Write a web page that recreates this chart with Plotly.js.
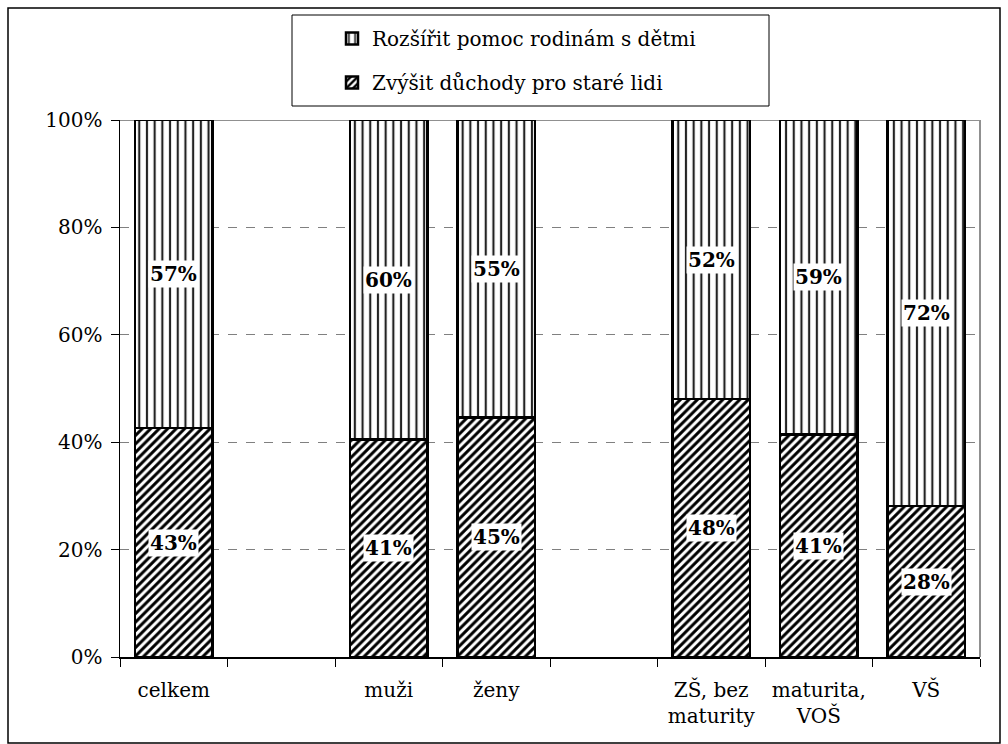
<!DOCTYPE html>
<html>
<head>
<meta charset="utf-8">
<script src="https://cdn.plot.ly/plotly-3.0.1.min.js"></script>
<style>html,body{margin:0;padding:0;background:#fff;}#chart{width:1008px;height:744px;}</style>
</head>
<body>
<div id="chart"></div>
<script>
// Category slots (two empty slots act as gaps)
const categories = ['celkem', ' ', 'muži', 'ženy', '  ', 'ZŠ, bez<br>maturity', 'maturita,<br>VOŠ', 'VŠ'];
const barCategories = ['celkem', 'muži', 'ženy', 'ZŠ, bez<br>maturity', 'maturita,<br>VOŠ', 'VŠ'];
// Zvýšit důchody pro staré lidi (bottom)
const pensions = [42.6, 40.5, 44.6, 48.0, 41.4, 28.1];
// Rozšířit pomoc rodinám s dětmi (top)
const families = [57.4, 59.5, 55.4, 52.0, 58.6, 71.9];
const pensionLabels = ['43%', '41%', '45%', '48%', '41%', '28%'];
const familyLabels = ['57%', '60%', '55%', '52%', '59%', '72%'];
const seriesNames = ['Zvýšit důchody pro staré lidi', 'Rozšířit pomoc rodinám s dětmi'];
const yTicks = [0, 20, 40, 60, 80, 100];

const FONT = 'DejaVu Serif';
const FS = 20;

const traces = [
  {
    type: 'bar', name: seriesNames[0], x: barCategories, y: pensions,
    legend: 'legend2',
    marker: {color: 'white', line: {color: 'black', width: 2.5},
      pattern: {shape: '/', fgcolor: 'black', bgcolor: 'white', size: 6, solidity: 0.5}},
    hoverinfo: 'skip'
  },
  {
    type: 'bar', name: seriesNames[1], x: barCategories, y: families,
    legend: 'legend',
    marker: {color: 'white', line: {color: 'black', width: 2.5},
      pattern: {shape: '|', fgcolor: '#222', bgcolor: 'white', size: 7.7, solidity: 0.28}},
    hoverinfo: 'skip'
  }
];

const annotations = [];
barCategories.forEach((c, i) => {
  annotations.push({x: c, y: pensions[i] / 2, xref: 'x', yref: 'y', text: '<b>' + pensionLabels[i] + '</b>',
    showarrow: false, bgcolor: 'white', borderpad: 1,
    font: {family: FONT, size: FS, color: 'black'}});
  annotations.push({x: c, y: pensions[i] + families[i] / 2, xref: 'x', yref: 'y', text: '<b>' + familyLabels[i] + '</b>',
    showarrow: false, bgcolor: 'white', borderpad: 1,
    font: {family: FONT, size: FS, color: 'black'}});
});

function px(xp) { return (xp - 120) / 860; }
function py(yp) { return (657 - yp) / 537; }

const shapes = [
  // outer chart border
  {type: 'rect', xref: 'paper', yref: 'paper', x0: px(8), x1: px(1000), y0: py(743), y1: py(8),
    line: {color: 'black', width: 1.5}, layer: 'below'},
  // legend box
  {type: 'rect', xref: 'paper', yref: 'paper', x0: px(292), x1: px(769), y0: py(106), y1: py(15),
    line: {color: 'black', width: 1}, fillcolor: 'white', layer: 'below'},
  // plot area border top & right (gray)
  {type: 'line', xref: 'paper', yref: 'y', x0: 0, x1: 1, y0: 100, y1: 100,
    line: {color: '#909090', width: 2}, layer: 'below'},
  {type: 'line', xref: 'paper', yref: 'y', x0: 1, x1: 1, y0: 0, y1: 100,
    line: {color: '#909090', width: 2}, layer: 'below'}
];

const legendStyle = {
  xanchor: 'left', yanchor: 'top',
  bgcolor: 'rgba(0,0,0,0)', borderwidth: 0,
  font: {family: FONT, size: FS, color: 'black'}
};

const layout = {
  width: 1008, height: 744,
  margin: {l: 120, r: 28, t: 120, b: 87},
  paper_bgcolor: 'white', plot_bgcolor: 'white',
  barmode: 'stack', bargap: 0.28,
  font: {family: FONT, size: FS, color: 'black'},
  showlegend: true,
  legend: Object.assign({x: px(332), y: py(19)}, legendStyle),
  legend2: Object.assign({x: px(332), y: py(63)}, legendStyle),
  xaxis: {
    type: 'category', categoryorder: 'array', categoryarray: categories,
    range: [-0.5, 7.5], tickangle: 0,
    tickson: 'boundaries', ticks: 'outside', ticklen: 8, tickcolor: 'black', tickwidth: 1,
    showline: true, linecolor: 'black', linewidth: 1.5,
    showgrid: false, zeroline: false, fixedrange: true,
    ticklabelstandoff: 14,
    tickfont: {family: FONT, size: FS, color: 'black'}
  },
  yaxis: {
    range: [0, 100], tickvals: yTicks, ticktext: yTicks.map(v => v + '%'),
    ticks: 'outside', ticklen: 8, tickcolor: 'black', tickwidth: 1,
    showline: true, linecolor: 'black', linewidth: 1.5,
    showgrid: true, gridcolor: '#808080', griddash: 'dash', gridwidth: 1,
    zeroline: false, fixedrange: true,
    ticklabelstandoff: 4,
    tickfont: {family: FONT, size: FS, color: 'black'}
  },
  shapes: shapes,
  annotations: annotations
};

Plotly.newPlot('chart', traces, layout, {staticPlot: true, displayModeBar: false});
</script>
</body>
</html>
